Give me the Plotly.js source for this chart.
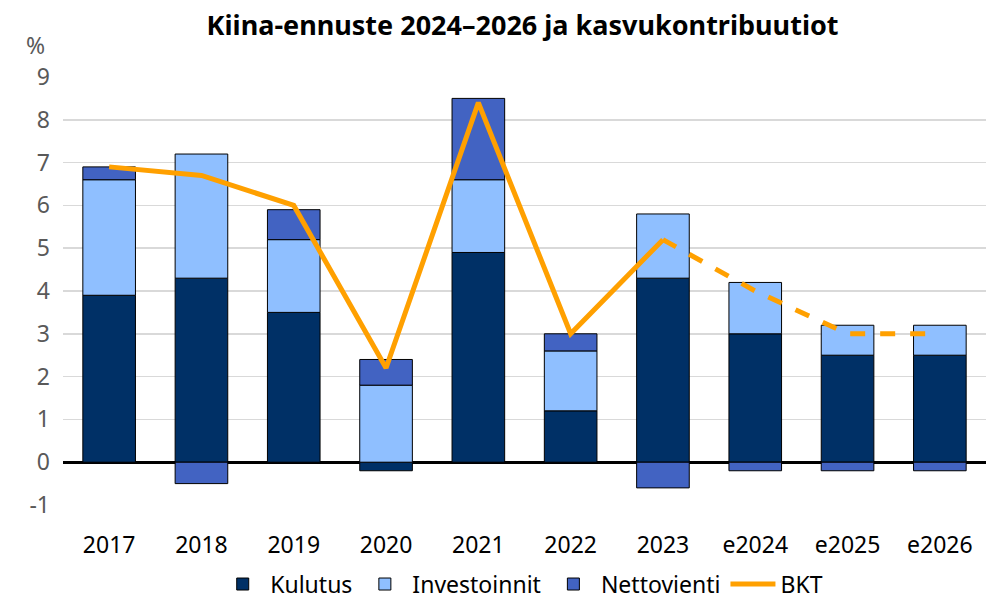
<!DOCTYPE html>
<html>
<head>
<meta charset="utf-8">
<script src="https://cdn.plot.ly/plotly-3.0.1.min.js"></script>
<style>html,body{margin:0;padding:0;background:#fff}#chart{width:986px;height:606px}</style>
</head>
<body>
<div id="chart"></div>
<script>
const categories = ["2017","2018","2019","2020","2021","2022","2023","e2024","e2025","e2026"];
const kulutus = [3.9, 4.3, 3.5, -0.2, 4.9, 1.2, 4.3, 3.0, 2.5, 2.5];
const investoinnit = [2.7, 2.9, 1.7, 1.8, 1.7, 1.4, 1.5, 1.2, 0.7, 0.7];
const nettovienti = [0.3, -0.5, 0.7, 0.6, 1.9, 0.4, -0.6, -0.2, -0.2, -0.2];
const bktActualCats = ["2017","2018","2019","2020","2021","2022","2023"];
const bktActual = [6.9, 6.7, 6.0, 2.2, 8.4, 3.0, 5.2];
const bktForecastCats = ["2023","e2024","e2025","e2026"];
const bktForecast = [5.2, 4.0, 3.0, 3.0];
const yTicks = [-1,0,1,2,3,4,5,6,7,8,9];

const barLine = {color:"#000000", width:1};
const traces = [
  {type:"bar", name:"Kulutus", x:categories, y:kulutus, marker:{color:"#003066", line:barLine}},
  {type:"bar", name:"Investoinnit", x:categories, y:investoinnit, marker:{color:"#8FBFFF", line:barLine}},
  {type:"bar", name:"Nettovienti", x:categories, y:nettovienti, marker:{color:"#4263C2", line:barLine}},
  {type:"scatter", mode:"lines", name:"BKT", x:bktActualCats, y:bktActual, line:{color:"#FFA000", width:5}},
  {type:"scatter", mode:"lines", name:"BKT", showlegend:false, x:bktForecastCats, y:bktForecast, line:{color:"#FFA000", width:5, dash:"dash"}}
];

const layout = {
  width:986, height:606,
  margin:{l:63, r:0, t:77, b:101},
  paper_bgcolor:"#ffffff", plot_bgcolor:"#ffffff",
  barmode:"relative", bargap:0.43,
  font:{family:"Noto Sans, sans-serif", size:23, color:"#000000"},
  title:{text:"<b>Kiina-ennuste 2024–2026 ja kasvukontribuutiot</b>", x:0.53, xanchor:"center", y:0.958, yanchor:"middle",
         font:{family:"Noto Sans, sans-serif", size:27, color:"#000000"}},
  xaxis:{type:"category", tickfont:{size:23, color:"#000000"}, ticks:"", showline:false, showgrid:false, zeroline:false,
         ticklabelstandoff:24},
  yaxis:{range:[-1,9], tickvals:yTicks, ticktext:yTicks.map(String), tickfont:{size:23, color:"#595959"},
         showgrid:true, gridcolor:"#d9d9d9", gridwidth:1.5, zeroline:true, zerolinecolor:"#000000", zerolinewidth:3,
         showline:false, ticks:"", ticklen:0, automargin:false, ticklabelstandoff:12},
  legend:{orientation:"h", x:0.497, xanchor:"center", y:-0.235, yanchor:"bottom", traceorder:"normal",
          font:{size:23, color:"#000000"}, itemwidth:45},
  annotations:[{text:"%", xref:"paper", yref:"paper", x:-0.03, y:1.075, xanchor:"center", yanchor:"middle", showarrow:false,
                font:{size:23, color:"#595959"}}]
};
Plotly.newPlot("chart", traces, layout, {displayModeBar:false, staticPlot:true});
</script>
</body>
</html>
